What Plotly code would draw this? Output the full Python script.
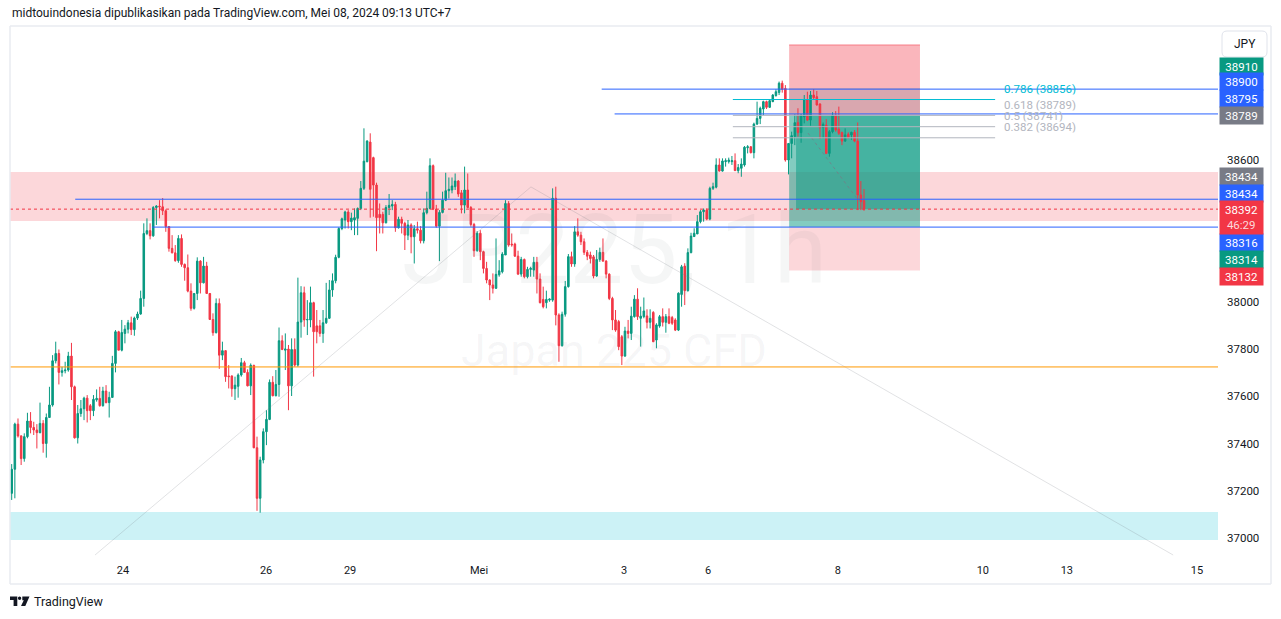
import plotly.graph_objects as go

# ---------------- data ----------------
opens = [
    37189, 37291, 37482, 37432, 37336, 37429, 37495, 37468, 37457, 37446,
    37485, 37400, 37510, 37563, 37750, 37781, 37701, 37708, 37711, 37770,
    37640, 37424, 37527, 37547, 37592, 37560, 37539, 37585, 37591, 37560,
    37622, 37573, 37595, 37739, 37873, 37795, 37866, 37884, 37911, 37882,
    37931, 37948, 38014, 38289, 38301, 38279, 38399, 38405, 38402, 38385,
    38318, 38226, 38207, 38174, 38268, 38158, 38144, 38045, 37972, 38035,
    38172, 38080, 38151, 38035, 37925, 37869, 37993, 37774, 37793, 37686,
    37686, 37632, 37642, 37690, 37742, 37701, 37644, 37731, 37382, 37168,
    37330, 37450, 37502, 37659, 37602, 37650, 37835, 37795, 37800, 37644,
    37798, 37732, 37914, 38038, 37923, 37923, 37996, 37898, 37898, 37866,
    37911, 37930, 38050, 38089, 38188, 38310, 38346, 38380, 38339, 38346,
    38353, 38395, 38480, 38593, 38676, 38610, 38494, 38370, 38370, 38334,
    38399, 38405, 38412, 38313, 38349, 38332, 38282, 38325, 38275, 38309,
    38303, 38258, 38377, 38395, 38576, 38392, 38320, 38378, 38430, 38470,
    38473, 38487, 38511, 38461, 38409, 38473, 38399, 38327, 38216, 38290,
    38212, 38141, 38092, 38071, 38057, 38114, 38127, 38198, 38416, 38244,
    38244, 38193, 38117, 38179, 38106, 38137, 38134, 38167, 38096, 38010,
    37996, 38007, 38007, 38438, 37944, 37814, 37947, 38064, 38191, 38160,
    38296, 38282, 38254, 38209, 38198, 38190, 38109, 38179, 38209, 38172,
    38117, 38014, 37923, 37916, 37852, 37770, 37876, 37866, 37937, 38011,
    37930, 37937, 37940, 37913, 37955, 37838, 37897, 37937, 37913, 37937,
    37933, 37923, 37880, 38031, 38151, 38047, 38208, 38276, 38287, 38339,
    38381, 38388, 38350, 38480, 38485, 38579, 38553, 38593, 38593, 38593,
    38597, 38555, 38565, 38579, 38652, 38656, 38631, 38752, 38776, 38816,
    38847, 38823, 38847, 38873, 38886, 38925, 38903, 38600, 38670, 38699,
    38758, 38716, 38783, 38854, 38769, 38875, 38868, 38837, 38737, 38748,
    38628, 38720, 38790, 38730, 38716, 38680, 38709, 38706, 38717, 38680,
    38452, 38428,
]
highs = [
    37313, 37488, 37506, 37435, 37443, 37530, 37533, 37492, 37482, 37573,
    37499, 37527, 37640, 37774, 37831, 37798, 37725, 37746, 37788, 37826,
    37645, 37563, 37584, 37598, 37605, 37567, 37605, 37629, 37640, 37640,
    37647, 37619, 37771, 37880, 37877, 37923, 37901, 37923, 37937, 37937,
    37958, 38047, 38332, 38353, 38332, 38405, 38409, 38430, 38439, 38391,
    38320, 38282, 38240, 38282, 38285, 38162, 38200, 38078, 38037, 38188,
    38176, 38190, 38169, 38037, 37951, 38014, 38014, 37831, 37795, 37732,
    37688, 37683, 37697, 37762, 37750, 37714, 37739, 37733, 37429, 37344,
    37464, 37541, 37671, 37685, 37711, 37891, 37858, 37866, 37817, 37845,
    37845, 38102, 38066, 38064, 38007, 38064, 38000, 37965, 37923, 37965,
    38080, 38092, 38120, 38199, 38315, 38356, 38385, 38388, 38377, 38395,
    38399, 38511, 38734, 38684, 38713, 38614, 38504, 38416, 38381, 38409,
    38456, 38430, 38423, 38360, 38360, 38339, 38346, 38332, 38325, 38339,
    38320, 38395, 38466, 38607, 38581, 38410, 38388, 38466, 38546, 38526,
    38526, 38543, 38515, 38473, 38572, 38543, 38405, 38334, 38299, 38303,
    38216, 38169, 38095, 38120, 38268, 38176, 38210, 38430, 38426, 38289,
    38250, 38216, 38190, 38183, 38148, 38148, 38190, 38190, 38120, 38064,
    38047, 38014, 38480, 38487, 37951, 37958, 38088, 38202, 38212, 38320,
    38353, 38296, 38268, 38219, 38212, 38198, 38219, 38229, 38268, 38176,
    38120, 38021, 37965, 37923, 37859, 37894, 37923, 37979, 38028, 38057,
    37979, 38018, 37968, 37968, 37960, 37909, 37944, 37972, 37948, 37972,
    37940, 37930, 38040, 38156, 38163, 38226, 38292, 38311, 38367, 38388,
    38395, 38395, 38487, 38504, 38607, 38607, 38607, 38607, 38610, 38617,
    38628, 38583, 38607, 38659, 38663, 38659, 38758, 38847, 38826, 38851,
    38851, 38857, 38879, 38899, 38932, 38936, 38917, 38670, 38720, 38793,
    38819, 38793, 38875, 38889, 38892, 38900, 38892, 38840, 38759, 38773,
    38727, 38802, 38807, 38826, 38720, 38734, 38717, 38720, 38727, 38759,
    38511, 38477,
]
lows = [
    37161, 37168, 37425, 37309, 37323, 37422, 37443, 37436, 37379, 37443,
    37361, 37340, 37509, 37556, 37739, 37650, 37683, 37697, 37704, 37584,
    37421, 37400, 37513, 37499, 37489, 37499, 37516, 37577, 37556, 37556,
    37570, 37510, 37594, 37701, 37795, 37790, 37824, 37866, 37859, 37856,
    37923, 37945, 37979, 38282, 38264, 38275, 38325, 38353, 38367, 38296,
    38212, 38205, 38169, 38165, 38148, 38089, 38040, 37962, 37967, 38007,
    38035, 38078, 38033, 37923, 37856, 37866, 37716, 37753, 37661, 37633,
    37598, 37584, 37594, 37683, 37699, 37642, 37605, 37380, 37115, 37107,
    37316, 37393, 37499, 37600, 37600, 37598, 37795, 37711, 37541, 37601,
    37725, 37725, 37848, 37894, 37859, 37892, 37683, 37824, 37852, 37826,
    37906, 37927, 38021, 38078, 38184, 38303, 38310, 38310, 38303, 38282,
    38282, 38388, 38473, 38590, 38356, 38360, 38214, 38289, 38289, 38332,
    38367, 38388, 38296, 38310, 38289, 38219, 38261, 38205, 38162, 38289,
    38247, 38247, 38370, 38391, 38388, 38313, 38172, 38374, 38426, 38437,
    38459, 38473, 38444, 38374, 38374, 38395, 38318, 38190, 38212, 38176,
    38120, 38078, 38007, 38035, 38054, 38106, 38120, 38198, 38233, 38233,
    38190, 38113, 38106, 38099, 38099, 38106, 38106, 38035, 37993, 37972,
    37972, 38000, 38000, 37900, 37746, 37810, 37937, 38060, 38148, 38148,
    38275, 38240, 38198, 38176, 38162, 38099, 38106, 38169, 38169, 38099,
    38007, 37880, 37873, 37795, 37732, 37767, 37845, 37838, 37933, 37923,
    37810, 37930, 37887, 37887, 37829, 37803, 37890, 37895, 37869, 37905,
    37902, 37876, 37876, 37979, 37986, 38043, 38205, 38274, 38287, 38332,
    38339, 38345, 38345, 38473, 38480, 38551, 38551, 38572, 38585, 38579,
    38555, 38544, 38529, 38572, 38628, 38628, 38607, 38748, 38752, 38790,
    38816, 38820, 38845, 38868, 38875, 38885, 38593, 38539, 38607, 38663,
    38699, 38673, 38755, 38765, 38745, 38854, 38830, 38689, 38692, 38625,
    38614, 38713, 38720, 38706, 38663, 38677, 38692, 38685, 38675, 38388,
    38388, 38385,
]
closes = [
    37291, 37482, 37432, 37336, 37429, 37495, 37468, 37457, 37446, 37485,
    37400, 37510, 37563, 37750, 37781, 37701, 37708, 37711, 37770, 37640,
    37424, 37527, 37547, 37592, 37539, 37539, 37587, 37591, 37560, 37622,
    37573, 37595, 37739, 37873, 37795, 37870, 37884, 37911, 37882, 37931,
    37948, 38014, 38289, 38301, 38279, 38399, 38405, 38402, 38385, 38318,
    38226, 38207, 38174, 38268, 38158, 38144, 38045, 37972, 38035, 38172,
    38080, 38151, 38035, 37925, 37869, 37993, 37774, 37793, 37683, 37683,
    37632, 37647, 37690, 37742, 37701, 37644, 37731, 37382, 37168, 37330,
    37450, 37502, 37659, 37602, 37650, 37835, 37798, 37800, 37644, 37798,
    37732, 37914, 38038, 37923, 37925, 37996, 37873, 37873, 37866, 37911,
    37930, 38050, 38089, 38188, 38310, 38351, 38380, 38339, 38354, 38356,
    38395, 38480, 38595, 38680, 38476, 38494, 38356, 38356, 38334, 38399,
    38408, 38412, 38313, 38349, 38332, 38282, 38325, 38275, 38309, 38303,
    38258, 38377, 38395, 38576, 38392, 38320, 38378, 38430, 38470, 38476,
    38490, 38511, 38456, 38409, 38473, 38399, 38327, 38216, 38290, 38212,
    38141, 38092, 38071, 38057, 38116, 38131, 38202, 38416, 38240, 38241,
    38193, 38117, 38179, 38106, 38137, 38141, 38167, 38096, 37996, 37979,
    38010, 38011, 38438, 37944, 37814, 37947, 38064, 38191, 38160, 38296,
    38282, 38254, 38209, 38193, 38183, 38109, 38179, 38209, 38172, 38117,
    38014, 37923, 37880, 37810, 37770, 37876, 37866, 37939, 38011, 37937,
    37939, 37961, 37913, 37930, 37831, 37902, 37937, 37913, 37937, 37909,
    37909, 37880, 38036, 38148, 38047, 38208, 38278, 38290, 38339, 38381,
    38388, 38350, 38480, 38487, 38579, 38553, 38596, 38597, 38600, 38597,
    38555, 38568, 38583, 38654, 38656, 38631, 38752, 38776, 38819, 38847,
    38823, 38851, 38875, 38889, 38925, 38899, 38600, 38670, 38703, 38758,
    38716, 38790, 38854, 38769, 38875, 38864, 38833, 38737, 38751, 38628,
    38720, 38790, 38727, 38713, 38680, 38706, 38694, 38717, 38680, 38452,
    38424, 38392,
]
assert len(opens) == len(highs) == len(lows) == len(closes)

# time axis (bar index positions of the day labels)
tick_pos = [35.4, 80.9, 107.6, 148.6, 194.7, 221.4, 262.7, 308.8, 335.5, 376.9]
tick_text = ["24", "26", "29", "Mei", "3", "6", "8", "10", "13", "15"]
# visible price-scale labels (38200/38400/38800 are hidden behind the coloured tags)
price_ticks = [37000, 37200, 37400, 37600, 37800, 38000, 38600]

# drawings
blue_levels = [38434, 38316, 38900, 38795]
blue_starts = [20.2, 44.6, 187.6, 191.7]
orange_level = 37724
last_price = 38392
pink_zone = [38342, 38549]
cyan_zone = [36992, 37110]
fib_labels = ["0.786", "0.618", "0.5", "0.382"]
fib_prices = [38856, 38789, 38741, 38694]
fib_span = [229.3, 312.7]
pos_span = [247.2, 288.8]
pos_profit_start = 249.4
pos_stop, pos_gray_top, pos_entry, pos_target, pos_bottom = 39087, 38905, 38789, 38316, 38132
trend_x = [26.5, 165.1, 369.3]
trend_y = [36928, 38486, 36928]
path_x = [253.2, 269.1]
path_y = [38714, 38431]

axis_label_text = ["38910", "38900", "38795", "38789", "38434", "38434", "38316", "38314", "38132"]
axis_label_color = ["#089981", "#2962ff", "#2962ff", "#787b86", "#787b86", "#2962ff", "#2962ff", "#089981", "#f23645"]
axis_label_ypix = [66, 82, 99, 116, 176, 193, 242, 259, 276]

# ---------------- layout geometry ----------------
W, H = 1281, 619
PL, PR, PT, PB = 10, 1218, 30, 556
X_RANGE = [(PL - 11.7) / 3.145, (PR - 11.7) / 3.145]
Y_RANGE = [38600 - (PB - 160) / 0.23625, 38600 + (160 - PT) / 0.23625]


def px_x(x):
    return (x - PL) / (PR - PL)


def px_y(y):
    return (PB - y) / (PB - PT)


UP, DOWN = "#089981", "#f23645"
FONT = "Roboto"
TXT = "#131722"

idx = list(range(len(opens)))

fig = go.Figure()
fig.add_trace(go.Scatter(x=trend_x, y=trend_y, mode="lines",
                         line=dict(color="rgba(120,123,134,0.22)", width=1),
                         hoverinfo="skip", showlegend=False))
fig.add_trace(go.Candlestick(
    x=idx, open=opens, high=highs, low=lows, close=closes,
    increasing=dict(line=dict(color=UP, width=1), fillcolor=UP),
    decreasing=dict(line=dict(color=DOWN, width=1), fillcolor=DOWN),
    whiskerwidth=0, showlegend=False))
fig.add_trace(go.Scatter(x=path_x, y=path_y, mode="lines",
                         line=dict(color="rgba(120,123,134,0.75)", width=1, dash="dot"),
                         hoverinfo="skip", showlegend=False))

shapes = []
# zones
shapes.append(dict(type="rect", xref="paper", x0=0, x1=1, yref="y", y0=pink_zone[0], y1=pink_zone[1],
                   fillcolor="rgba(242,54,69,0.2)", line=dict(width=0), layer="below"))
shapes.append(dict(type="rect", xref="paper", x0=0, x1=1, yref="y", y0=cyan_zone[0], y1=cyan_zone[1],
                   fillcolor="rgba(0,188,212,0.2)", line=dict(width=0), layer="below"))
# position tool
x0p, x1p = pos_span
shapes.append(dict(type="rect", x0=x0p, x1=x1p, y0=pos_entry, y1=pos_stop,
                   fillcolor="rgba(242,54,69,0.36)", line=dict(width=0), layer="below"))
shapes.append(dict(type="rect", x0=x0p, x1=x1p, y0=pos_entry, y1=pos_gray_top,
                   fillcolor="rgba(120,123,134,0.25)", line=dict(width=0), layer="below"))
shapes.append(dict(type="line", x0=x0p, x1=x1p, y0=pos_stop, y1=pos_stop,
                   line=dict(color="rgba(242,54,69,0.55)", width=1), layer="below"))
shapes.append(dict(type="rect", x0=x0p, x1=x1p, y0=pos_target, y1=pos_entry,
                   fillcolor="rgba(8,153,129,0.5)", line=dict(width=0), layer="below"))
shapes.append(dict(type="rect", x0=pos_profit_start, x1=x1p, y0=last_price, y1=pos_entry,
                   fillcolor="rgba(8,153,129,0.5)", line=dict(width=0), layer="below"))
shapes.append(dict(type="rect", x0=x0p, x1=x1p, y0=pos_bottom, y1=pos_target,
                   fillcolor="rgba(242,54,69,0.2)", line=dict(width=0), layer="below"))
# horizontal lines
shapes.append(dict(type="line", xref="paper", x0=0, x1=1, y0=orange_level, y1=orange_level,
                   line=dict(color="#ff9800", width=1), layer="above"))
for lvl, st in zip(blue_levels, blue_starts):
    shapes.append(dict(type="line", x0=st, x1=X_RANGE[1], y0=lvl, y1=lvl,
                       line=dict(color="#2962ff", width=1), layer="above"))
for lab, pr in zip(fib_labels, fib_prices):
    col = "#00bcd4" if lab == "0.786" else "#b2b5be"
    shapes.append(dict(type="line", x0=fib_span[0], x1=fib_span[1], y0=pr, y1=pr,
                       line=dict(color=col, width=1), layer="above"))
shapes.append(dict(type="line", xref="paper", x0=0, x1=1, y0=last_price, y1=last_price,
                   line=dict(color=DOWN, width=1, dash="dot"), layer="above"))

# frame
FR = "#e9ebf0"
for (ax0, ay0, ax1, ay1) in [(10, 26, 1271, 26), (10, 26, 10, 584), (1271, 26, 1271, 584), (10, 584, 1271, 584)]:
    shapes.append(dict(type="line", xref="paper", yref="paper", x0=px_x(ax0), x1=px_x(ax1),
                       y0=px_y(ay0), y1=px_y(ay1), line=dict(color=FR, width=1.5), layer="above"))


def rounded(xa, ya, xb, yb, r):
    pts = [
        f"M {px_x(xa + r)},{px_y(ya)}", f"L {px_x(xb - r)},{px_y(ya)}",
        f"Q {px_x(xb)},{px_y(ya)} {px_x(xb)},{px_y(ya + r)}", f"L {px_x(xb)},{px_y(yb - r)}",
        f"Q {px_x(xb)},{px_y(yb)} {px_x(xb - r)},{px_y(yb)}", f"L {px_x(xa + r)},{px_y(yb)}",
        f"Q {px_x(xa)},{px_y(yb)} {px_x(xa)},{px_y(yb - r)}", f"L {px_x(xa)},{px_y(ya + r)}",
        f"Q {px_x(xa)},{px_y(ya)} {px_x(xa + r)},{px_y(ya)}", "Z"]
    return " ".join(pts)


shapes.append(dict(type="path", xref="paper", yref="paper", path=rounded(1222, 31, 1267, 57, 5),
                   fillcolor="white", line=dict(color="#e0e3eb", width=1), layer="above"))

# TradingView logo (footer)
logo_T = [(10, 596.5), (17.3, 596.5), (17.3, 606), (13.6, 606), (13.6, 600), (10, 600)]
logo_V = [(22.3, 596.5), (29.5, 596.5), (25.3, 606), (21.0, 606), (23.8, 600.3), (22.3, 600.3)]
for poly in (logo_T, logo_V):
    p = "M " + " L ".join(f"{px_x(a)},{px_y(b)}" for a, b in poly) + " Z"
    shapes.append(dict(type="path", xref="paper", yref="paper", path=p,
                       fillcolor=TXT, line=dict(width=0), layer="above"))
shapes.append(dict(type="circle", xref="paper", yref="paper", x0=px_x(17.9), x1=px_x(21.3),
                   y0=px_y(596.5), y1=px_y(599.9), fillcolor=TXT, line=dict(width=0), layer="above"))

annotations = []
# watermark
annotations.append(dict(text="JP225, 1h", xref="paper", yref="paper", x=px_x(614), y=px_y(250),
                        showarrow=False, font=dict(family=FONT, size=96, color="rgba(120,123,134,0.07)")))
annotations.append(dict(text="Japan 225 CFD", xref="paper", yref="paper", x=px_x(614), y=px_y(350),
                        showarrow=False, font=dict(family=FONT, size=45, color="rgba(120,123,134,0.07)")))
# header / footer
annotations.append(dict(text="midtouindonesia dipublikasikan pada TradingView.com, Mei 08, 2024 09:13 UTC+7",
                        xref="paper", yref="paper", x=px_x(10), y=px_y(13), xanchor="left", yanchor="middle",
                        showarrow=False, font=dict(family=FONT, size=12, color=TXT)))
annotations.append(dict(text="TradingView", xref="paper", yref="paper", x=px_x(32), y=px_y(601),
                        xanchor="left", yanchor="middle", showarrow=False,
                        font=dict(family=FONT, size=12.5, color=TXT)))
# fib labels (text sits just above each level line)
for lab, pr in zip(fib_labels, fib_prices):
    col = "#00bcd4" if lab == "0.786" else "#b2b5be"
    annotations.append(dict(text=f"{lab} ({pr})", x=315.2, y=pr, xanchor="left", yanchor="middle",
                            yshift=10, height=10.5, borderpad=0, showarrow=False,
                            font=dict(family=FONT, size=11.5, color=col)))
# price axis labels
for t, c, yp in zip(axis_label_text, axis_label_color, axis_label_ypix):
    annotations.append(dict(text=t, xref="paper", yref="paper", x=px_x(1241.5), y=px_y(yp),
                            xanchor="center", yanchor="middle", width=43, height=17, borderpad=0,
                            bgcolor=c, showarrow=False, font=dict(family=FONT, size=11.5, color="white")))
annotations.append(dict(text=f"{last_price}<br><span style='color:rgba(255,255,255,0.82)'>46:29</span>",
                        xref="paper", yref="paper", x=px_x(1241.5), y=px_y(217.5),
                        xanchor="center", yanchor="middle", width=43, height=33, borderpad=0,
                        bgcolor=DOWN, showarrow=False, font=dict(family=FONT, size=11.5, color="white")))
annotations.append(dict(text="JPY", xref="paper", yref="paper", x=px_x(1244.5), y=px_y(44),
                        xanchor="center", yanchor="middle", showarrow=False,
                        font=dict(family=FONT, size=12, color=TXT)))

fig.update_layout(
    width=W, height=H,
    margin=dict(l=PL, r=W - PR, t=PT, b=H - PB, pad=0),
    paper_bgcolor="white", plot_bgcolor="white",
    shapes=shapes, annotations=annotations,
    showlegend=False, hovermode=False,
    font=dict(family=FONT, size=11, color=TXT),
    xaxis=dict(range=X_RANGE, tickvals=tick_pos, ticktext=tick_text, showgrid=False, zeroline=False,
               showline=False, ticks="", rangeslider=dict(visible=False), fixedrange=True,
               tickfont=dict(family=FONT, size=11, color=TXT), ticklabelstandoff=6),
    yaxis=dict(range=Y_RANGE, side="right", tickvals=price_ticks, showgrid=False, zeroline=False,
               showline=False, ticks="", fixedrange=True, tickformat="d",
               tickfont=dict(family=FONT, size=11.5, color=TXT), ticklabelstandoff=8),
)

fig.write_html("out.html", config={"displayModeBar": False},
               post_script="document.body.style.margin='0px';document.body.style.overflow='hidden';")
